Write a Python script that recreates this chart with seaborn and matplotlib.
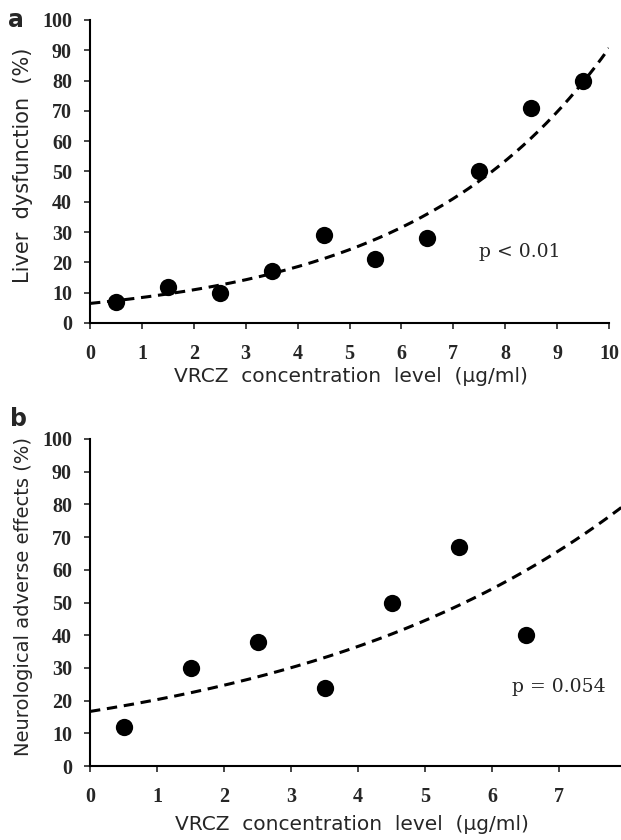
import numpy as np
import pandas as pd
import matplotlib
matplotlib.use("Agg")
import matplotlib.pyplot as plt
import seaborn as sns


# panel a: liver dysfunction by VRCZ level
conc_a = [0.5, 1.5, 2.5, 3.5, 4.5, 5.5, 6.5, 7.5, 8.5, 9.5]
liver_pct = [7, 12, 10, 17, 29, 21, 28, 50, 71, 80]

# panel b: neurological adverse effects by VRCZ level
conc_b = [0.5, 1.5, 2.5, 3.5, 4.5, 5.5, 6.5]
neuro_pct = [12, 30, 38, 24, 50, 67, 40]

y_ticks = list(range(0, 101, 10))
x_ticks_a = list(range(0, 11))
x_ticks_b = list(range(0, 9))

X_LABEL = "VRCZ  concentration  level  (\u00b5g/ml)"
TICK_FONT = {"family": "Liberation Serif", "weight": "bold", "size": 14.5}


def exp_trend(x, y, x_max):
    """Exponential trendline fitted on log(y), like a spreadsheet trendline."""
    slope, intercept = np.polyfit(np.asarray(x), np.log(np.asarray(y)), 1)
    xs = np.linspace(0, x_max, 200)
    return pd.DataFrame({"x": xs, "y": np.exp(intercept + slope * xs)})


def draw_panel(ax, x, y, x_max, x_ticks, ylabel, ylabel_size, p_text, p_pos):
    df = pd.DataFrame({"x": x, "y": y})
    trend = exp_trend(x, y, x_max)

    sns.lineplot(data=trend, x="x", y="y", ax=ax, color="black",
                 linewidth=2.2, linestyle=(0, (3.4, 2.2)), zorder=2)
    sns.scatterplot(data=df, x="x", y="y", ax=ax, color="black",
                    s=155, edgecolor="black", linewidth=0, zorder=3)

    ax.set_xlim(0, x_max)
    ax.set_ylim(0, 100)
    ax.set_xticks(x_ticks)
    ax.set_yticks(y_ticks)
    ax.set_xticklabels([str(t) for t in x_ticks], fontdict=TICK_FONT)
    ax.set_yticklabels([str(t) for t in y_ticks], fontdict=TICK_FONT)
    ax.tick_params(axis="x", direction="out", length=4, width=1.2, pad=11)
    ax.tick_params(axis="y", direction="out", length=4, width=1.2, pad=9)

    for side in ["left", "bottom"]:
        ax.spines[side].set_linewidth(1.5)
        ax.spines[side].set_color("black")
    for side in ["top", "right"]:
        ax.spines[side].set_visible(False)

    ax.set_xlabel(X_LABEL, fontsize=14.5, family="DejaVu Sans")
    ax.set_ylabel(ylabel, fontsize=ylabel_size, family="DejaVu Sans")

    ax.text(p_pos[0], p_pos[1], p_text, family="DejaVu Serif",
            fontsize=13.5, ha="left", va="center")


sns.set_style("ticks")
plt.rcParams["font.family"] = ["DejaVu Sans"]

fig = plt.figure(figsize=(6.21, 8.40), dpi=100)
ax_a = fig.add_axes([90 / 621, 1 - 323 / 840, 519 / 621, 303 / 840])
ax_b = fig.add_axes([90 / 621, 1 - 766 / 840, 536 / 621, 327 / 840])

draw_panel(ax_a, conc_a, liver_pct, 10, x_ticks_a,
           "Liver  dysfunction  (%)", 15, "p < 0.01", (7.5, 23.5))
draw_panel(ax_b, conc_b, neuro_pct, 8, x_ticks_b,
           "Neurological adverse effects (%)", 14, "p = 0.054", (6.3, 24.2))

ax_a.yaxis.set_label_coords(-0.110, 0.521)
ax_b.yaxis.set_label_coords(-0.106, 0.517)
ax_a.xaxis.set_label_coords(0.503, -0.145)
ax_b.xaxis.set_label_coords(0.489, -0.150)

fig.text(16 / 621, 1 - 20 / 840, "a", fontsize=17, fontweight="bold",
         ha="center", va="center")
fig.text(19 / 621, 1 - 419 / 840, "b", fontsize=17, fontweight="bold",
         ha="center", va="center")

fig.savefig("out.png", dpi=100)
plt.close(fig)
